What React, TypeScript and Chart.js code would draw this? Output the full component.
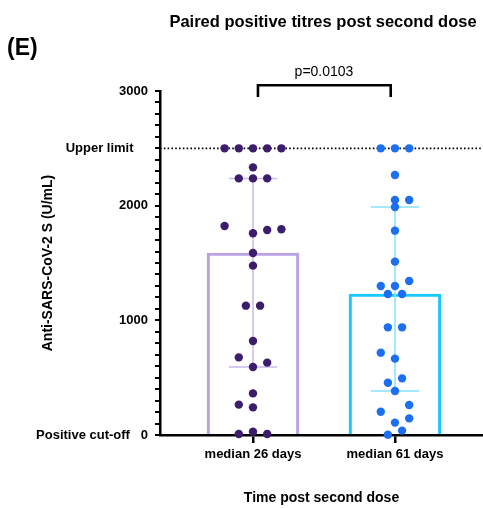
import React, { useEffect, useRef } from 'react';
import { Chart, registerables } from 'chart.js';

Chart.register(...registerables);

// ---------- data ----------
const categories = ['median 26 days', 'median 61 days'];
const categoryPositions = [1, 2];

const group1Values = [2500, 2500, 2500, 2500, 2500, 2334, 2238, 2238, 2238, 1823, 1794, 1788, 1759, 1587, 1477, 1128, 1128, 820, 677, 631, 593, 363, 265, 241, 29, 9, 9];
const group1Slots = [-4, -2, 0, 2, 4, 0, -2, 0, 2, -4, 4, 2, 0, 0, 0, -1, 1, 0, -2, 2, 0, 0, -2, 0, 0, -2, 2];

const group2Values = [2500, 2500, 2500, 2267, 2049, 2049, 1988, 1782, 1512, 1343, 1299, 1299, 1230, 1230, 939, 939, 718, 666, 494, 456, 384, 262, 203, 145, 108, 38, 3];
const group2Slots = [-2, 0, 2, 0, 0, 2, 0, 0, 0, 2, -2, 0, -1, 1, -1, 1, -2, 0, 1, -1, 0, 2, -2, 2, 0, 1, -1];

const yTickLabels: Record<number, string> = {
  3000: '3000',
  2500: 'Upper limit    ',
  2000: '2000',
  1000: '1000',
  0: 'Positive cut-off   0',
};
const upperLimit = 2500;
const bracketTop = 3050;
const bracketFoot = 2948;
const pValueText = 'p=0.0103';
const titleText = 'Paired positive titres post second dose';
const panelLabel = '(E)';
const yTitle = 'Anti-SARS-CoV-2 S (U/mL)';
const xTitle = 'Time post second dose';

// ---------- styles ----------
const FONT = '"Liberation Sans", Arial, Helvetica, sans-serif';
const g1Dot = '#3c1d6c';
const g1Bar = '#b9a3e3';
const g1Err = '#c9b9ec';
const g2Dot = '#1c6ff0';
const g2Bar = '#18c8ff';
const g2Err = '#86e2ff';
const SLOT = 0.05;
const CAP = 0.17;
const X_MIN = 0.345;
const X_MAX = 2.62;

function percentile(values: number[], p: number) {
  const s = [...values].sort((a, b) => a - b);
  const pos = p * (s.length + 1) - 1;
  const lo = Math.max(0, Math.min(s.length - 1, Math.floor(pos)));
  const hi = Math.max(0, Math.min(s.length - 1, Math.ceil(pos)));
  return s[lo] + (s[hi] - s[lo]) * (pos - Math.floor(pos));
}

function errorDatasets(cx: number, vals: number[], color: string) {
  const q1 = percentile(vals, 0.25);
  const q3 = percentile(vals, 0.75);
  const base = {
    type: 'line' as const,
    borderColor: color,
    borderWidth: 1.5,
    pointRadius: 0,
    fill: false,
    order: 2,
  };
  return [
    { ...base, data: [{ x: cx, y: q1 }, { x: cx, y: q3 }] },
    { ...base, data: [{ x: cx - CAP, y: q3 }, { x: cx + CAP, y: q3 }] },
    { ...base, data: [{ x: cx - CAP, y: q1 }, { x: cx + CAP, y: q1 }] },
  ];
}

const textPlugin = {
  id: 'texts',
  afterDraw(chart: any) {
    const ctx = chart.ctx;
    const y = chart.scales.y;
    const x = chart.scales.x;
    ctx.save();
    ctx.fillStyle = '#000';
    ctx.textBaseline = 'middle';
    ctx.font = `bold 16.5px ${FONT}`;
    ctx.textAlign = 'center';
    ctx.fillText(titleText, 323, 22);
    ctx.font = `bold 23px ${FONT}`;
    ctx.textAlign = 'left';
    ctx.fillText(panelLabel, 7, 49);
    ctx.font = `14px ${FONT}`;
    ctx.textAlign = 'center';
    const cx = (x.getPixelForValue(categoryPositions[0]) + x.getPixelForValue(categoryPositions[1])) / 2;
    ctx.fillText(pValueText, cx, y.getPixelForValue(bracketTop) - 13);
    ctx.restore();
  },
};

export default function App() {
  const ref = useRef<HTMLCanvasElement>(null);

  useEffect(() => {
    if (!ref.current) return;
    const median1 = percentile(group1Values, 0.5);
    const median2 = percentile(group2Values, 0.5);

    const chart = new Chart(ref.current, {
      type: 'scatter',
      data: {
        datasets: [
          {
            type: 'scatter',
            data: group1Values.map((v, i) => ({ x: categoryPositions[0] + group1Slots[i] * SLOT, y: v })),
            backgroundColor: g1Dot,
            borderWidth: 0,
            pointRadius: 4.2,
            clip: false,
            order: 0,
          } as any,
          {
            type: 'scatter',
            data: group2Values.map((v, i) => ({ x: categoryPositions[1] + group2Slots[i] * SLOT, y: v })),
            backgroundColor: g2Dot,
            borderWidth: 0,
            pointRadius: 4.2,
            clip: false,
            order: 0,
          } as any,
          ...errorDatasets(categoryPositions[0], group1Values, g1Err),
          ...errorDatasets(categoryPositions[1], group2Values, g2Err),
          {
            type: 'line',
            data: [{ x: X_MIN, y: upperLimit }, { x: X_MAX, y: upperLimit }],
            borderColor: '#000',
            borderWidth: 1.6,
            borderDash: [1.6, 2.2],
            pointRadius: 0,
            order: 1,
          } as any,
          {
            type: 'bar',
            data: [
              { x: categoryPositions[0], y: median1 },
              { x: categoryPositions[1], y: median2 },
            ],
            backgroundColor: 'rgba(255,255,255,0)',
            borderColor: [g1Bar, g2Bar],
            borderWidth: 2.5,
            barThickness: 92,
            grouped: false,
            order: 3,
          } as any,
          {
            type: 'line',
            data: [
              { x: 1.035, y: bracketFoot },
              { x: 1.035, y: bracketTop },
              { x: 1.97, y: bracketTop },
              { x: 1.97, y: bracketFoot },
            ],
            borderColor: '#000',
            borderWidth: 2.6,
            borderJoinStyle: 'miter',
            pointRadius: 0,
            clip: false,
            order: 0,
          } as any,
        ],
      },
      options: {
        responsive: false,
        animation: false,
        layout: { autoPadding: false, padding: { left: 30, top: 91, right: 0, bottom: 0 } },
        plugins: {
          legend: { display: false },
          tooltip: { enabled: false },
          title: { display: false },
        },
        scales: {
          x: {
            type: 'linear',
            min: X_MIN,
            max: X_MAX,
            offset: false,
            afterBuildTicks: (s: any) => {
              s.ticks = categoryPositions.map((v) => ({ value: v }));
            },
            afterFit: (s: any) => {
              s.height = 73;
              s.paddingLeft = 0;
              s.paddingRight = 0;
            },
            border: { display: true, color: '#000', width: 2.5 },
            grid: {
              display: true,
              offset: false,
              drawOnChartArea: false,
              drawTicks: true,
              tickLength: 8,
              color: '#000',
              lineWidth: 2.5,
            },
            ticks: {
              autoSkip: false,
              maxRotation: 0,
              padding: 4,
              color: '#000',
              font: { family: FONT, size: 13, weight: 'bold' },
              callback: (v: any) => {
                const i = categoryPositions.indexOf(Number(v));
                return i >= 0 ? categories[i] : '';
              },
            },
            title: {
              display: true,
              text: xTitle,
              color: '#000',
              font: { family: FONT, size: 14, weight: 'bold' },
              padding: { top: 0, bottom: 1 },
            },
          },
          y: {
            type: 'linear',
            min: 0,
            max: 3000,
            afterFit: (s: any) => {
              s.width = 130;
            },
            border: { display: true, color: '#000', width: 2.5 },
            grid: {
              display: true,
              drawOnChartArea: false,
              drawTicks: true,
              tickLength: 5,
              color: '#000',
              lineWidth: 2,
            },
            ticks: {
              stepSize: 100,
              autoSkip: false,
              padding: 7,
              color: '#000',
              font: { family: FONT, size: 13, weight: 'bold' },
              callback: (v: any) => {
                const n = Math.round(Number(v));
                return yTickLabels[n] !== undefined ? yTickLabels[n] : '';
              },
            },
            title: {
              display: true,
              text: yTitle,
              color: '#000',
              font: { family: FONT, size: 14, weight: 'bold' },
              padding: { top: 10, bottom: 0 },
            },
          },
        },
      } as any,
      plugins: [textPlugin],
    });
    return () => chart.destroy();
  }, []);

  return (
    <canvas
      ref={ref}
      width={483}
      height={508}
      style={{ position: 'absolute', left: 0, top: 0, display: 'block' }}
    />
  );
}
